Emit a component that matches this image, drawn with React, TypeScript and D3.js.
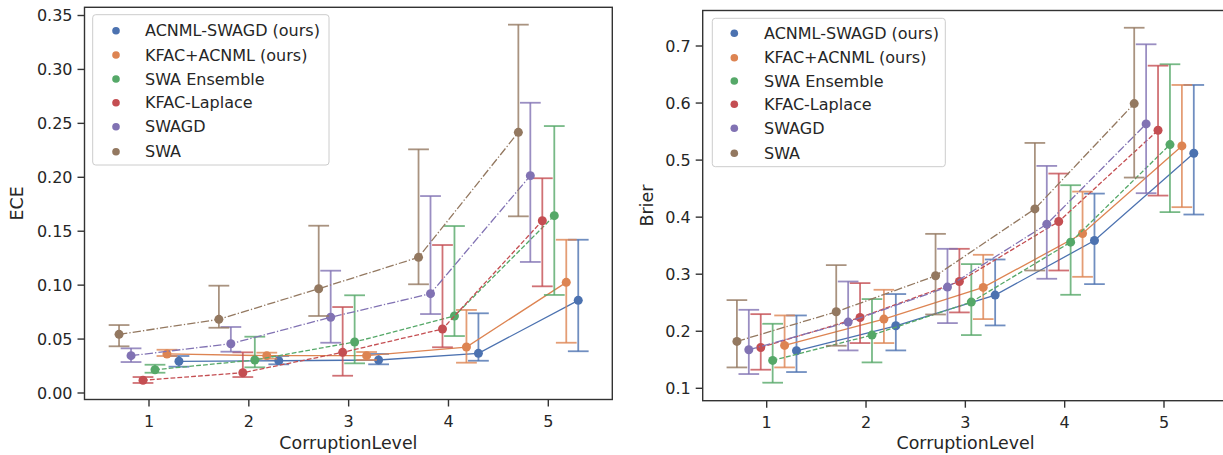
import React from "react";
import * as d3 from "d3";

const levels = [1, 2, 3, 4, 5];
const methods = ["ACNML-SWAGD (ours)", "KFAC+ACNML (ours)", "SWA Ensemble", "KFAC-Laplace", "SWAGD", "SWA"];
const colors = ["#4C72B0", "#DD8452", "#55A868", "#C44E52", "#8172B3", "#937860"];
const dashes = ["", "", "dash", "dash", "dashdot", "dashdot"];
const offsets = [0.3, 0.18, 0.06, -0.06, -0.18, -0.3];

// ECE (left panel): mean, lower, upper per method and level
const eceMean = [
  [0.0294, 0.0299, 0.0306, 0.0368, 0.0859],
  [0.0362, 0.0346, 0.0346, 0.0426, 0.1026],
  [0.0216, 0.0306, 0.0473, 0.0714, 0.1644],
  [0.0118, 0.0188, 0.0377, 0.0593, 0.1597],
  [0.0346, 0.0457, 0.0702, 0.0921, 0.2015],
  [0.0544, 0.0683, 0.0967, 0.1258, 0.2417],
];
const eceLow = [
  [0.0244, 0.0266, 0.0266, 0.0299, 0.0387],
  [0.0343, 0.0318, 0.0306, 0.0281, 0.0466],
  [0.0188, 0.0238, 0.0275, 0.0528, 0.0909],
  [0.0093, 0.0148, 0.016, 0.0424, 0.0989],
  [0.0287, 0.0383, 0.0466, 0.0732, 0.1215],
  [0.0433, 0.0605, 0.0714, 0.1008, 0.1638],
];
const eceHigh = [
  [0.0343, 0.0343, 0.0362, 0.0739, 0.1421],
  [0.0401, 0.0374, 0.038, 0.077, 0.1421],
  [0.0262, 0.0522, 0.0906, 0.1548, 0.2475],
  [0.0148, 0.0377, 0.0797, 0.1372, 0.1991],
  [0.0414, 0.0612, 0.1134, 0.1826, 0.2691],
  [0.063, 0.0995, 0.1551, 0.2259, 0.3415],
];

// Brier (right panel)
const brierMean = [
  [0.1658, 0.2096, 0.2634, 0.359, 0.5121],
  [0.1752, 0.2213, 0.2768, 0.3713, 0.5249],
  [0.1489, 0.1933, 0.2511, 0.3562, 0.5272],
  [0.1716, 0.2242, 0.2872, 0.3923, 0.5524],
  [0.1676, 0.2161, 0.2774, 0.3877, 0.5634],
  [0.1822, 0.2341, 0.2972, 0.4145, 0.599],
];
const brierLow = [
  [0.1285, 0.1664, 0.2102, 0.2826, 0.4046],
  [0.1366, 0.1793, 0.2213, 0.2954, 0.4175],
  [0.1098, 0.1454, 0.1933, 0.2639, 0.4088],
  [0.1326, 0.1793, 0.233, 0.3065, 0.4378],
  [0.125, 0.1664, 0.2143, 0.292, 0.442],
  [0.1366, 0.1746, 0.2294, 0.3065, 0.4694],
];
const brierHigh = [
  [0.2277, 0.2652, 0.3258, 0.4413, 0.6317],
  [0.2277, 0.2727, 0.334, 0.4448, 0.6317],
  [0.2131, 0.2564, 0.3177, 0.456, 0.668],
  [0.23, 0.2844, 0.3445, 0.4764, 0.6655],
  [0.2376, 0.2872, 0.3445, 0.4898, 0.703],
  [0.2546, 0.3159, 0.3707, 0.5301, 0.732],
];

const eceTicks = [0, 0.05, 0.1, 0.15, 0.2, 0.25, 0.3, 0.35];
const brierTicks = [0.1, 0.2, 0.3, 0.4, 0.5, 0.6, 0.7];

const FONT = "DejaVu Sans, sans-serif";
const TEXT = "#262626";
const LW = 1.3;

function dashArray(kind: string) {
  if (kind === "dash") return `${3.7 * LW},${1.6 * LW}`;
  if (kind === "dashdot") return `${6.4 * LW},${1.6 * LW},${1 * LW},${1.6 * LW}`;
  return undefined;
}

type PanelProps = {
  frame: { x0: number; x1: number; y0: number; y1: number };
  xRange: [number, number];
  yDomain: [number, number];
  yRange: [number, number];
  mean: number[][];
  low: number[][];
  high: number[][];
  ticks: number[];
  fmt: (v: number) => string;
  ylabel: string;
  ylabelX: number;
  legend: { x: number; y: number; w: number; h: number; rows: number[]; mx: number; tx: number };
};

function Panel(p: PanelProps) {
  const x = d3.scaleLinear().domain([1, 5]).range(p.xRange);
  const y = d3.scaleLinear().domain(p.yDomain).range(p.yRange);
  const { x0, x1, y0, y1 } = p.frame;
  const capHalf = 0.104;
  return (
    <g>
      {methods.map((m, si) => {
        const pts = levels.map((lv, i) => [x(lv + offsets[si]), y(p.mean[si][i])] as [number, number]);
        const path = d3.line()(pts) as string;
        return (
          <g key={m}>
            <path d={path} fill="none" stroke={colors[si]} strokeWidth={LW} strokeDasharray={dashArray(dashes[si])} />
            {levels.map((lv, i) => {
              const cx = x(lv + offsets[si]);
              const ch = x(lv + offsets[si] + capHalf) - cx;
              const yl = y(p.low[si][i]);
              const yh = y(p.high[si][i]);
              return (
                <g key={i} stroke={colors[si]} strokeWidth={1.8} strokeOpacity={0.8}>
                  <line x1={cx} x2={cx} y1={yl} y2={yh} />
                  <line x1={cx - ch} x2={cx + ch} y1={yl} y2={yl} />
                  <line x1={cx - ch} x2={cx + ch} y1={yh} y2={yh} />
                </g>
              );
            })}
            {levels.map((lv, i) => (
              <circle key={"c" + i} cx={x(lv + offsets[si])} cy={y(p.mean[si][i])} r={4.5} fill={colors[si]} />
            ))}
          </g>
        );
      })}
      <rect x={x0} y={y1} width={x1 - x0} height={y0 - y1} fill="none" stroke="#333" strokeWidth={1.4} />
      {p.ticks.map((t) => (
        <g key={t}>
          <line x1={x0 - 7} x2={x0} y1={y(t)} y2={y(t)} stroke="#333" strokeWidth={1.4} />
          <text x={x0 - 12} y={y(t)} dy="0.35em" textAnchor="end" fontSize={16} fill={TEXT} fontFamily={FONT}>
            {p.fmt(t)}
          </text>
        </g>
      ))}
      {levels.map((lv) => (
        <g key={lv}>
          <line x1={x(lv)} x2={x(lv)} y1={y0} y2={y0 + 7} stroke="#333" strokeWidth={1.4} />
          <text x={x(lv)} y={y0 + 27} textAnchor="middle" fontSize={16} fill={TEXT} fontFamily={FONT}>
            {lv}
          </text>
        </g>
      ))}
      <text x={(x0 + x1) / 2} y={449} textAnchor="middle" fontSize={17.4} fill={TEXT} fontFamily={FONT}>
        CorruptionLevel
      </text>
      <text
        transform={`translate(${p.ylabelX},${(y0 + y1) / 2}) rotate(-90)`}
        textAnchor="middle"
        fontSize={17.4}
        fill={TEXT}
        fontFamily={FONT}
      >
        {p.ylabel}
      </text>
      <rect
        x={p.legend.x}
        y={p.legend.y}
        width={p.legend.w}
        height={p.legend.h}
        rx={3}
        fill="white"
        fillOpacity={0.8}
        stroke="#cccccc"
        strokeWidth={1}
      />
      {methods.map((m, si) => (
        <g key={"lg" + si}>
          <circle cx={p.legend.x + p.legend.mx} cy={p.legend.y + p.legend.rows[si]} r={3.8} fill={colors[si]} />
          <text
            x={p.legend.x + p.legend.tx}
            y={p.legend.y + p.legend.rows[si]}
            dy="0.35em"
            fontSize={16}
            fill={TEXT}
            fontFamily={FONT}
          >
            {m}
          </text>
        </g>
      ))}
    </g>
  );
}

export default function App() {
  const fmtE = (v: number) => v.toFixed(2);
  const fmtB = (v: number) => v.toFixed(1);
  return (
    <svg
      width={1223}
      height={455}
      style={{ position: "absolute", left: 0, top: 0, background: "white" }}
      xmlns="http://www.w3.org/2000/svg"
    >
      <rect x={0} y={0} width={1223} height={455} fill="white" />
      <Panel
        frame={{ x0: 84.5, x1: 612.3, y0: 399.5, y1: 7.3 }}
        xRange={[149, 548.3]}
        yDomain={[0, 0.35]}
        yRange={[393, 15.5]}
        mean={eceMean}
        low={eceLow}
        high={eceHigh}
        ticks={eceTicks}
        fmt={fmtE}
        ylabel="ECE"
        ylabelX={23}
        legend={{ x: 92.7, y: 14.7, w: 236.3, h: 150.3, rows: [16, 40.3, 64.3, 88, 112, 137], mx: 23.3, tx: 52.3 }}
      />
      <Panel
        frame={{ x0: 702.7, x1: 1228.4, y0: 400.7, y1: 10.5 }}
        xRange={[766.7, 1164]}
        yDomain={[0.1, 0.7]}
        yRange={[388.3, 46]}
        mean={brierMean}
        low={brierLow}
        high={brierHigh}
        ticks={brierTicks}
        fmt={fmtB}
        ylabel="Brier"
        ylabelX={653}
        legend={{ x: 712.3, y: 18.3, w: 233, h: 148.4, rows: [15, 39.4, 62.7, 86, 110, 135], mx: 22, tx: 51.7 }}
      />
    </svg>
  );
}
